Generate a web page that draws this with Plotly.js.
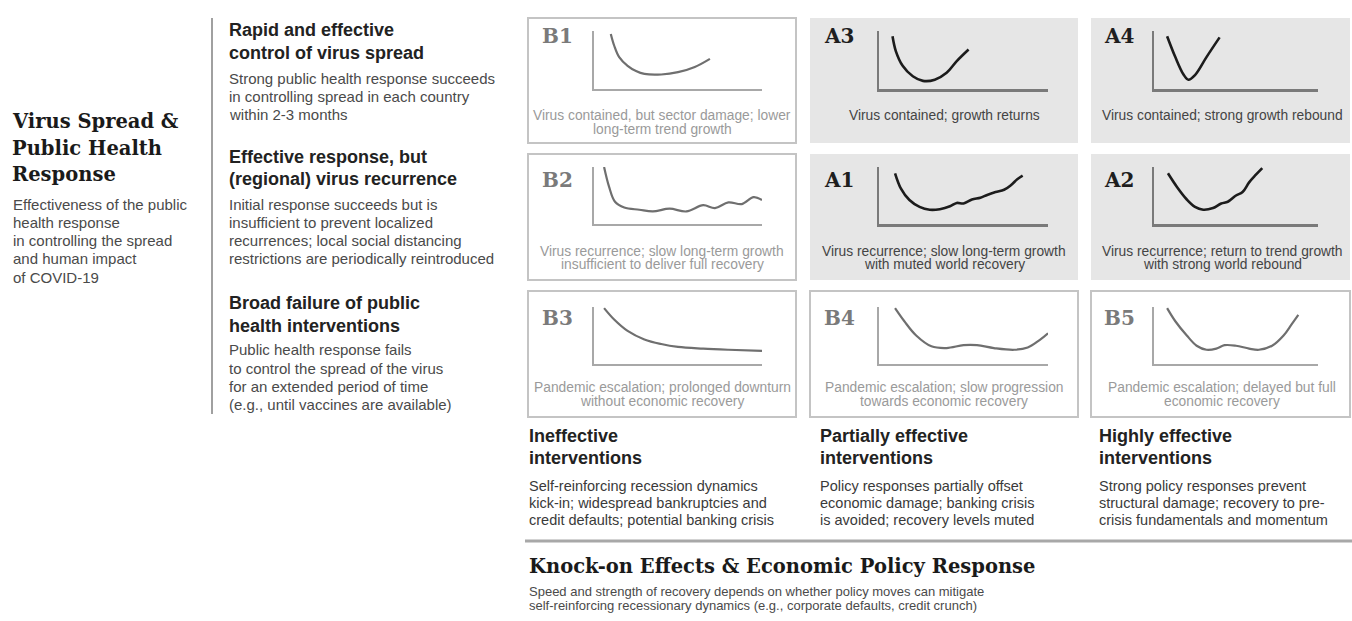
<!DOCTYPE html>
<html><head><meta charset="utf-8">
<script src="https://cdn.plot.ly/plotly-3.0.1.min.js"></script>
<style>html,body{margin:0;padding:0;background:#fff}#chart{width:1352px;height:621px}</style>
</head><body><div id="chart"></div>
<script>
// ---------------- data ----------------
const scenarioLabels = ['B1','A3','A4','B2','A1','A2','B3','B4','B5'];
const scenarioStrong = [false,true,true,false,true,true,false,false,false];

const b1X = [1.0,1.2,1.5,2.0,2.5,3.0,4.0,5.0,6.0,6.9];
const b1Y = [9.5,7.5,5.5,4.0,3.1,2.6,2.5,2.9,3.8,5.2];
const a3X = [0.8,1.0,1.4,2.0,2.6,3.3,4.0,4.6,5.3];
const a3Y = [9.1,6.5,4.0,2.2,1.4,1.6,2.8,4.8,6.8];
const a4X = [0.8,1.3,1.8,2.1,2.5,3.2,4.0];
const a4Y = [9.1,5.5,2.5,1.6,2.4,5.5,8.9];
const b2X = [0.6,0.9,1.25,1.8,2.7,3.5,4.5,5.5,6.5,7.2,8.0,8.8,9.5,10];
const b2Y = [10,6.5,3.9,2.9,2.5,2.2,2.7,2.2,3.3,2.8,3.8,3.5,4.7,4.2];
const a1X = [0.95,1.3,1.8,2.4,3.0,3.6,4.2,4.6,5.0,5.5,6.0,6.4,6.9,7.4,7.8,8.2,8.5];
const a1Y = [8.9,6.2,4.2,3.0,2.5,2.6,3.1,3.7,3.6,4.3,4.6,5.1,5.6,6.0,6.8,7.9,8.5];
const a2X = [0.85,1.4,2.0,2.5,3.0,3.6,4.1,4.5,5.0,5.4,5.8,6.2,6.6];
const a2Y = [8.9,6.5,4.3,3.0,2.5,2.8,3.6,3.9,5.0,5.6,7.3,8.6,9.8];
const b3X = [0.6,1.2,2.0,3.0,4.0,5.0,6.5,8.0,10];
const b3Y = [9.8,7.8,5.8,4.3,3.5,3.0,2.7,2.5,2.3];
const b4X = [0.95,1.5,2.2,3.1,4.0,5.0,5.8,6.8,8.0,8.8,9.5,10];
const b4Y = [9.8,7.5,5.0,3.1,2.8,3.3,3.3,2.8,2.5,2.9,4.2,5.4];
const b5X = [0.8,1.3,2.0,2.6,3.2,3.8,4.3,5.0,5.8,6.4,7.2,7.9,8.4,8.8];
const b5Y = [9.8,7.5,5.0,3.2,2.5,2.7,3.3,3.2,2.7,2.5,3.2,5.0,7.0,8.6];
const curvesX = [b1X,a3X,a4X,b2X,a1X,a2X,b3X,b4X,b5X];
const curvesY = [b1Y,a3Y,a4Y,b2Y,a1Y,a2Y,b3Y,b4Y,b5Y];

const captions = [
  ['Virus contained, but sector damage; lower','long-term trend growth'],
  ['Virus contained; growth returns'],
  ['Virus contained; strong growth rebound'],
  ['Virus recurrence; slow long-term growth','insufficient to deliver full recovery'],
  ['Virus recurrence; slow long-term growth','with muted world recovery'],
  ['Virus recurrence; return to trend growth','with strong world rebound'],
  ['Pandemic escalation; prolonged downturn','without economic recovery'],
  ['Pandemic escalation; slow progression','towards economic recovery'],
  ['Pandemic escalation; delayed but full','economic recovery']
];

const leftTitleLines = ['Virus Spread &','Public Health','Response'];
const leftBodyLines = ['Effectiveness of the public','health response','in controlling the spread','and human impact','of COVID-19'];
const rowHeadings = [['Rapid and effective','control of virus spread'],['Effective response, but','(regional) virus recurrence'],['Broad failure of public','health interventions']];
const rowBodies = [
  ['Strong public health response succeeds','in controlling spread in each country','within 2-3 months'],
  ['Initial response succeeds but is','insufficient to prevent localized','recurrences; local social distancing','restrictions are periodically reintroduced'],
  ['Public health response fails','to control the spread of the virus','for an extended period of time','(e.g., until vaccines are available)']
];
const colHeadings = [['Ineffective','interventions'],['Partially effective','interventions'],['Highly effective','interventions']];
const colBodies = [
  ['Self-reinforcing recession dynamics','kick-in; widespread bankruptcies and','credit defaults; potential banking crisis'],
  ['Policy responses partially offset','economic damage; banking crisis','is avoided; recovery levels muted'],
  ['Strong policy responses prevent','structural damage; recovery to pre-','crisis fundamentals and momentum']
];
const bottomTitle = 'Knock-on Effects & Economic Policy Response';
const bottomBodyLines = ['Speed and strength of recovery depends on whether policy moves can mitigate','self-reinforcing recessionary dynamics (e.g., corporate defaults, credit crunch)'];

// ---------------- layout geometry (pixels) ----------------
const W = 1352, H = 621;
const PX = x => x / W, PY = y => 1 - y / H;
const axisCols = [[594,762],[879,1048],[1154,1318]];
const axisRows = [[31,89],[167,224],[307,364]];
const cellCols = [[528,796],[810,1078],[1091,1350]];
const cellRows = [[18,143],[154,280],[291,417]];
const labelX = [540,822,1102], labelY = [36,180,318];
const capX = [662,944,1222];
const capY = [[116,129],[251,264],[387,401]];

const SANS = 'Liberation Sans, Arial, sans-serif';
const SERIF = 'DejaVu Serif, Georgia, serif';

function txt(text, x, y, size, color, family, anchor) {
  return {text: text, x: PX(x), y: PY(y), xref: 'paper', yref: 'paper', showarrow: false,
    xanchor: anchor || 'left', yanchor: 'middle', font: {size: size, color: color, family: family}};
}

const traces = [], annotations = [], shapes = [];
const layout = {
  width: W, height: H, margin: {l: 0, r: 0, t: 0, b: 0},
  paper_bgcolor: '#fff', plot_bgcolor: 'rgba(0,0,0,0)', showlegend: false
};

// cell backgrounds / boxes
for (let i = 0; i < 9; i++) {
  const r = Math.floor(i / 3), c = i % 3;
  const [x0, x1] = cellCols[c], [y0, y1] = cellRows[r];
  if (scenarioStrong[i]) {
    shapes.push({type: 'rect', xref: 'paper', yref: 'paper', x0: PX(x0), x1: PX(x1), y0: PY(y1), y1: PY(y0),
      fillcolor: '#e6e6e6', line: {width: 0}, layer: 'below'});
  } else {
    shapes.push({type: 'rect', xref: 'paper', yref: 'paper', x0: PX(x0), x1: PX(x1), y0: PY(y1), y1: PY(y0),
      fillcolor: 'rgba(0,0,0,0)', line: {width: 2, color: '#c4c4c4'}, layer: 'below'});
  }
}

// mini charts
for (let i = 0; i < 9; i++) {
  const r = Math.floor(i / 3), c = i % 3;
  const n = i === 0 ? '' : String(i + 1);
  const strong = scenarioStrong[i];
  traces.push({x: curvesX[i], y: curvesY[i], xaxis: 'x' + n, yaxis: 'y' + n, type: 'scatter', mode: 'lines',
    line: {color: strong ? '#1c1c1c' : '#6f6f6f', width: strong ? 2.6 : 2.2, shape: 'spline', smoothing: 1},
    hoverinfo: 'skip'});
  const axCommon = {range: [0, 10], showgrid: false, zeroline: false, showticklabels: false, ticks: '',
    showline: true, linecolor: strong ? '#7a7a7a' : '#a8a8a8', linewidth: strong ? 2.5 : 2, fixedrange: true};
  layout['xaxis' + n] = Object.assign({}, axCommon, {domain: [PX(axisCols[c][0]), PX(axisCols[c][1])],
    anchor: 'y' + n});
  layout['yaxis' + n] = Object.assign({}, axCommon, {domain: [PY(axisRows[r][1]), PY(axisRows[r][0])],
    anchor: 'x' + n});
  annotations.push(txt('<b>' + scenarioLabels[i] + '</b>', labelX[c], labelY[r], 20,
    strong ? '#1e1e1e' : '#7a7a7a', SERIF));
  const caps = captions[i];
  if (caps.length === 1) {
    annotations.push(txt(caps[0], capX[c], capY[r][0], 13.8, strong ? '#444' : '#9a9a9a', SANS, 'center'));
  } else {
    caps.forEach((line, k) => annotations.push(txt(line, capX[c], capY[r][k], 13.8,
      strong ? '#444' : '#9a9a9a', SANS, 'center')));
  }
}

// left block
leftTitleLines.forEach((t, k) => annotations.push(txt('<b>' + t + '</b>', 10, 122 + k * 26.5, 19.5, '#1a1a1a', SERIF)));
leftBodyLines.forEach((t, k) => annotations.push(txt(t, 11, 204 + k * 18.3, 15, '#4a4a4a', SANS)));

// row descriptions
const headY = [30, 157, 303], bodyY = [78, 204, 350];
rowHeadings.forEach((lines, r) => lines.forEach((t, k) =>
  annotations.push(txt('<b>' + t + '</b>', 227, headY[r] + k * 22.5, 18, '#222', SANS))));
rowBodies.forEach((lines, r) => lines.forEach((t, k) =>
  annotations.push(txt(t, 227, bodyY[r] + k * 18.3, 15, '#4a4a4a', SANS))));

// column descriptions
const colX = [527, 818, 1097];
colHeadings.forEach((lines, c) => lines.forEach((t, k) =>
  annotations.push(txt('<b>' + t + '</b>', colX[c], 436 + k * 21.5, 18, '#222', SANS))));
colBodies.forEach((lines, c) => lines.forEach((t, k) =>
  annotations.push(txt(t, colX[c], 486 + k * 17, 14.5, '#3a3a3a', SANS))));

annotations.push(txt('<b>' + bottomTitle + '</b>', 527, 566, 19.5, '#1a1a1a', SERIF));
bottomBodyLines.forEach((t, k) => annotations.push(txt(t, 527, 591 + k * 14.5, 13, '#4a4a4a', SANS)));

// separator lines
shapes.push({type: 'line', xref: 'paper', yref: 'paper', x0: PX(212), x1: PX(212), y0: PY(18), y1: PY(414),
  line: {color: '#a0a0a0', width: 2}});
shapes.push({type: 'line', xref: 'paper', yref: 'paper', x0: PX(525), x1: PX(1352), y0: PY(541), y1: PY(541),
  line: {color: '#a8a8a8', width: 3}});

layout.annotations = annotations;
layout.shapes = shapes;
Plotly.newPlot('chart', traces, layout, {displayModeBar: false, staticPlot: true});
</script>
</body></html>
